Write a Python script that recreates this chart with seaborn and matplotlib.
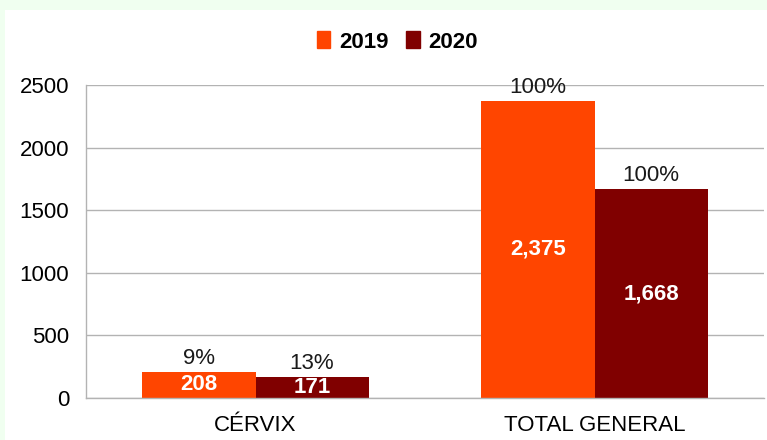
import matplotlib
matplotlib.use("Agg")
import matplotlib.pyplot as plt
import matplotlib.patches as mpatches
import seaborn as sns
import pandas as pd

# chart data
categories = ["CÉRVIX", "TOTAL GENERAL"]
years = ["2019", "2020"]
values_2019 = [208, 2375]
values_2020 = [171, 1668]
pct_2019 = ["9%", "100%"]
pct_2020 = ["13%", "100%"]
yticks = [0, 500, 1000, 1500, 2000, 2500]

colors = {"2019": "#ff4500", "2020": "#800000"}
FS = 16

df = pd.DataFrame({
    "categoria": categories * 2,
    "anio": [years[0]] * len(categories) + [years[1]] * len(categories),
    "valor": values_2019 + values_2020,
})

sns.set_style("white")
plt.rcParams["font.family"] = ["Liberation Sans", "DejaVu Sans"]
plt.rcParams["text.color"] = "black"
plt.rcParams["xtick.labelcolor"] = "black"
plt.rcParams["ytick.labelcolor"] = "black"

fig = plt.figure(figsize=(7.67, 4.4), dpi=100)
fig.patch.set_facecolor("#f0fff0")
# white panel inside the light green frame
panel = mpatches.Rectangle((5 / 767, 0), 1, 1 - 10 / 440,
                           transform=fig.transFigure, facecolor="white",
                           edgecolor="none", zorder=-10)
fig.add_artist(panel)

ax = fig.add_axes([86 / 767, 1 - 398 / 440, (764 - 86) / 767, (398 - 85) / 440])
ax.set_facecolor("none")

sns.barplot(data=df, x="categoria", y="valor", hue="anio", palette=colors,
            width=0.667, gap=0, saturation=1, linewidth=0, ax=ax, legend=False)

ax.set_xlim(-0.5, 1.5)
ax.set_ylim(0, 2500)
ax.set_yticks(yticks)
ax.set_yticklabels([str(t) for t in yticks], fontsize=FS)
ax.yaxis.grid(True, color="#b3b3b3", linewidth=1)
ax.set_axisbelow(True)

# category boundary ticks, labels at centers
ax.set_xticks([0, 1])
ax.set_xticklabels(categories, fontsize=FS)
ax.tick_params(axis="x", which="major", length=0, pad=12)
ax.set_xticks([-0.5, 0.5, 1.5], minor=True)
ax.tick_params(axis="x", which="minor", length=9, color="#b3b3b3", width=1)
ax.tick_params(axis="y", length=8, color="#b3b3b3", width=1, pad=4)

ax.set_xlabel("")
ax.set_ylabel("")
for s in ["top", "right"]:
    ax.spines[s].set_visible(False)
for s in ["left", "bottom"]:
    ax.spines[s].set_color("#b3b3b3")
    ax.spines[s].set_linewidth(1)

# labels
for cont, pcts in zip(ax.containers, [pct_2019, pct_2020]):
    ax.bar_label(cont, labels=[f"{v:,.0f}" for v in cont.datavalues],
                 label_type="center", color="white", fontsize=FS, fontweight="bold")
    ax.bar_label(cont, labels=pcts, padding=2, fontsize=FS, color="#1a1a1a")

handles = [mpatches.Patch(color=colors[y], label=y) for y in years]
fig.legend(handles=handles, loc="center", bbox_to_anchor=(0.518, 1 - 42 / 440),
           ncol=2, frameon=False, handlelength=0.6, handleheight=0.8,
           handletextpad=0.4, columnspacing=0.8,
           prop={"size": FS, "weight": "bold"})

fig.savefig("out.png", dpi=100, facecolor=fig.get_facecolor())
